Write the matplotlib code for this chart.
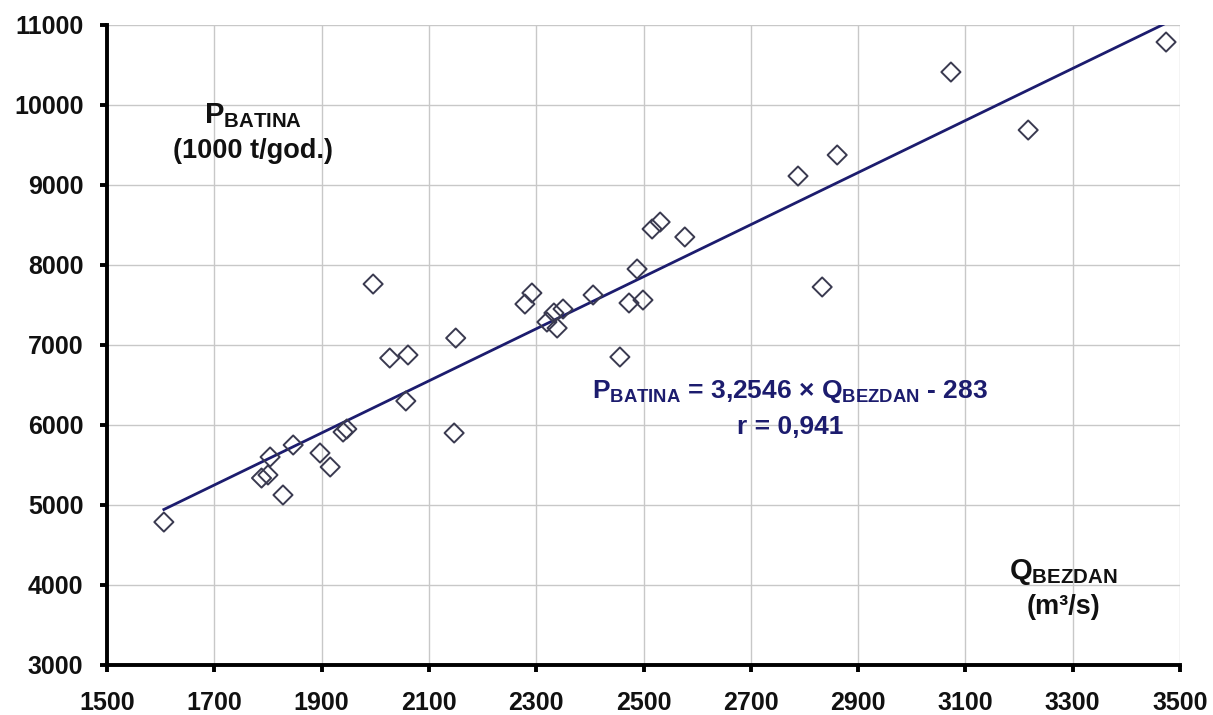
import numpy as np
import matplotlib
matplotlib.use("Agg")
import matplotlib.pyplot as plt

plt.rcParams['font.family'] = ['Liberation Sans', 'DejaVu Sans']
plt.rcParams['mathtext.fontset'] = 'custom'
plt.rcParams['mathtext.rm'] = 'Liberation Sans'
plt.rcParams['mathtext.bf'] = 'Liberation Sans:bold'
plt.rcParams['mathtext.it'] = 'Liberation Sans:italic'

q_bezdan = [1606, 1788, 1800, 1804, 1828, 1847, 1897, 1916, 1940, 1947,
            1996, 2027, 2061, 2057, 2150, 2147, 2279, 2292, 2320, 2333,
            2339, 2350, 2406, 2456, 2473, 2488, 2499, 2516, 2531, 2577,
            2788, 2861, 2833, 3073, 3217, 3474]
p_batina = [4787, 5337, 5375, 5600, 5125, 5750, 5650, 5475, 5912, 5950,
            7762, 6837, 6875, 6300, 7087, 5900, 7512, 7650, 7287, 7400,
            7212, 7450, 7625, 6850, 7525, 7950, 7562, 8450, 8537, 8350,
            9112, 9375, 7725, 10412, 9687, 10787]
slope = 3.2546
intercept = -283
x_ticks = [1500, 1700, 1900, 2100, 2300, 2500, 2700, 2900, 3100, 3300, 3500]
y_ticks = [3000, 4000, 5000, 6000, 7000, 8000, 9000, 10000, 11000]

navy = '#1c1c6e'

fig = plt.figure(figsize=(12.13, 7.15), dpi=100)
ax = fig.add_axes([107/1213, 1-665/715, (1180-107)/1213, (665-25)/715])

ax.set_xlim(1500, 3500)
ax.set_ylim(3000, 11000)
ax.set_xticks(x_ticks)
ax.set_yticks(y_ticks)
ax.grid(True, color='#c8c8c8', linewidth=1.0)
ax.set_axisbelow(True)

for s in ['top', 'right']:
    ax.spines[s].set_visible(False)
for s in ['left', 'bottom']:
    ax.spines[s].set_linewidth(2.8)
    ax.spines[s].set_color('black')

ax.tick_params(axis='both', direction='out', length=5, width=2.8,
               labelsize=18, colors='black')
ax.tick_params(axis='y', pad=12)
ax.tick_params(axis='x', pad=14)
for lab in ax.get_xticklabels() + ax.get_yticklabels():
    lab.set_fontweight('bold')
    lab.set_color('#111111')

# regression line
xl = np.array([min(q_bezdan), max(q_bezdan)])
ax.plot(xl, slope * xl + intercept, color=navy, linewidth=2.0, zorder=2)

ax.scatter(q_bezdan, p_batina, marker='D', s=95, facecolors='none',
           edgecolors='#3a3a50', linewidths=1.4, zorder=3)

ax.text(1772, 9870, r'$\mathbf{P_{BATINA}}$', fontsize=21, fontweight='bold',
        ha='center', va='center', color='#111111')
ax.text(1772, 9420, '(1000 t/god.)', fontsize=19.5, fontweight='bold',
        ha='center', va='center', color='#111111')

ax.text(2773, 6420, r'$\mathbf{P_{BATINA}}$ = 3,2546 × $\mathbf{Q_{BEZDAN}}$ - 283',
        fontsize=19, fontweight='bold', color=navy, ha='center', va='center')
ax.text(2773, 5975, 'r = 0,941', fontsize=19, fontweight='bold', color=navy,
        ha='center', va='center')

ax.text(3282, 4160, r'$\mathbf{Q_{BEZDAN}}$', fontsize=21, fontweight='bold',
        ha='center', va='center', color='#111111')
ax.text(3282, 3725, '(m³/s)', fontsize=19.5, fontweight='bold',
        ha='center', va='center', color='#111111')

fig.savefig('out.png', dpi=100)
